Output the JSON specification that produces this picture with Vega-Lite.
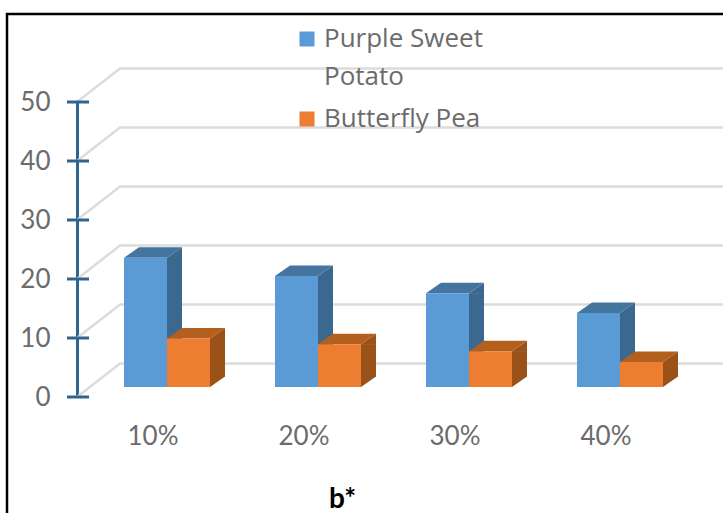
{
"$schema":"https://vega.github.io/schema/vega-lite/v6.json",
"width":720,"height":505,
"autosize":{"type":"none"},
"padding":{"left":7,"top":14,"right":0,"bottom":0},
"background":"white",
"view":{"stroke":"black","strokeWidth":2.5,"fill":"white"},
"config":{"font":"Lato"},
"datasets":{
"bars":[
{"conc":"10%","series":"Purple Sweet Potato","value":21.9},
{"conc":"20%","series":"Purple Sweet Potato","value":18.8},
{"conc":"30%","series":"Purple Sweet Potato","value":15.9},
{"conc":"40%","series":"Purple Sweet Potato","value":12.56},
{"conc":"10%","series":"Butterfly Pea","value":8.2},
{"conc":"20%","series":"Butterfly Pea","value":7.25},
{"conc":"30%","series":"Butterfly Pea","value":6.06},
{"conc":"40%","series":"Butterfly Pea","value":4.24}
],
"ticks":[{"tick":0},{"tick":10},{"tick":20},{"tick":30},{"tick":40},{"tick":50}]
},
"data":{"name":"bars"},
"encoding":{
"x":{"field":"conc","type":"nominal","sort":["10%","20%","30%","40%"],
"scale":{"domain":["10%","20%","30%","40%"],"range":[84.5,688.5],"paddingInner":0,"paddingOuter":0},
"axis":{"title":"b*","titleFont":"Lato","titleFontSize":28,"titleFontWeight":"bold","titleColor":"#000000","titleX":335,"titleY":110,"titleBaseline":"alphabetic","titleAnchor":"start","titleAlign":"center",
"domain":false,"ticks":false,"labelAngle":0,"labelFontSize":26,"labelColor":"#6b6b6b","labelFont":"Lato","labelPadding":26,"labelOffset":-14,"offset":-122,"grid":false}},
"xOffset":{"field":"series","type":"nominal","sort":["Purple Sweet Potato","Butterfly Pea"],
"scale":{"domain":["Purple Sweet Potato","Butterfly Pea"],"paddingInner":0,"paddingOuter":0.756}}
},
"resolve":{"scale":{"color":"independent"}},
"layer":[
{"data":{"name":"ticks"},
"mark":{"type":"point","shape":"M-90,0 L-47,-33.5 L575,-33.5","size":4,"filled":false,"stroke":"#dcdcdc","strokeWidth":2.5,"opacity":1},
"encoding":{"x":{"datum":"10%"},"xOffset":null,
"y":{"field":"tick","type":"quantitative","scale":{"domain":[0,50],"range":[383,88],"nice":false,"zero":false},
"axis":{"title":null,"values":[0,10,20,30,40,50],"grid":false,"ticks":false,"offset":-70,"domainColor":"#2f6491","domainWidth":3,"labelFontSize":26,"labelColor":"#6b6b6b","labelFont":"Lato","labelPadding":27}}}},
{"data":{"name":"ticks"},
"mark":{"type":"point","shape":"M-100,0 L-78,0","size":4,"filled":false,"stroke":"#2f6491","strokeWidth":3,"opacity":1},
"encoding":{"x":{"datum":"10%"},"xOffset":null,
"y":{"field":"tick","type":"quantitative"}}},
{"transform":[{"filter":"datum.series == 'Purple Sweet Potato'"}],
"mark":{"type":"bar","width":15,"xOffset":7.5,"yOffset":-10,"y2Offset":-20.5,"opacity":1,"color":"#3b688f"},
"encoding":{"xOffset":null,"y":{"field":"value","type":"quantitative"},"y2":{"datum":0}}},
{"transform":[{"filter":"datum.series == 'Butterfly Pea'"}],
"mark":{"type":"bar","width":15,"xOffset":50.5,"yOffset":-10,"y2Offset":-20.5,"opacity":1,"color":"#9a5219"},
"encoding":{"xOffset":null,"y":{"field":"value","type":"quantitative"},"y2":{"datum":0}}},
{"mark":{"type":"point","shape":"M21.5,0.5 L21.5,0 L36.5,-10.5 L36.5,0.5 Z","size":4,"filled":true,"strokeWidth":0,"opacity":1,"yOffset":-10},
"encoding":{"y":{"field":"value","type":"quantitative"},
"color":{"field":"series","type":"nominal","legend":null,"scale":{"domain":["Purple Sweet Potato","Butterfly Pea"],"range":["#3b688f","#9a5219"]}}}},
{"mark":{"type":"point","shape":"M21.5,0 L36.5,-10.5 L36.5,-11 L21.5,-11 Z","size":4,"filled":true,"strokeWidth":0,"opacity":1,"yOffset":-10},
"encoding":{"y":{"datum":0},
"color":{"field":"series","type":"nominal","legend":null,"scale":{"domain":["Purple Sweet Potato","Butterfly Pea"],"range":["#3b688f","#9a5219"]}}}},
{"mark":{"type":"point","shape":"M-21.5,0 L-6.5,-10.5 L36.5,-10.5 L21.5,0 Z","size":4,"filled":true,"strokeWidth":0,"opacity":1,"yOffset":-10},
"encoding":{"y":{"field":"value","type":"quantitative"},
"color":{"field":"series","type":"nominal","legend":null,"scale":{"domain":["Purple Sweet Potato","Butterfly Pea"],"range":["#44759f","#b3601f"]}}}},
{"mark":{"type":"bar","yOffset":-10,"y2Offset":-10,"opacity":1},
"encoding":{"y":{"field":"value","type":"quantitative"},"y2":{"datum":0},
"color":{"field":"series","type":"nominal","scale":{"domain":["Purple Sweet Potato","Butterfly Pea"],"range":["#5b9bd5","#ed7d31"]},
"legend":{"title":null,"orient":"none","legendX":287,"legendY":12,"symbolType":"square","symbolSize":225,"symbolStrokeWidth":0,"labelFont":"Open Sans","labelFontSize":26,"labelColor":"#6b6b6b","labelLimit":300,"rowPadding":16,"labelOffset":4,"labelExpr":"datum.label == 'Purple Sweet Potato' ? ['Purple Sweet','Potato'] : datum.label","encoding":{"labels":{"lineHeight":{"value":38}}}}}}}
]
}
